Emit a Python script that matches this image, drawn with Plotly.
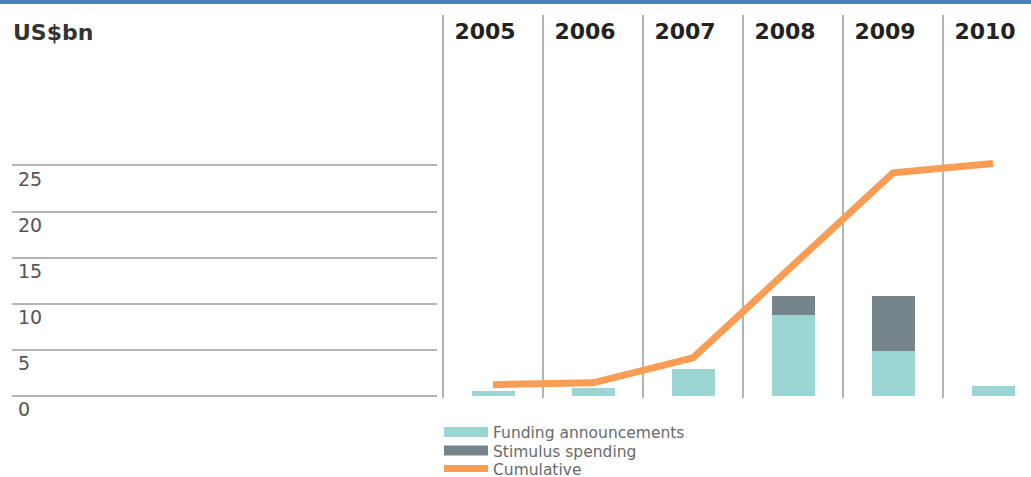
import plotly.graph_objects as go

# ---- data (US$bn) ----
years = ["2005", "2006", "2007", "2008", "2009", "2010"]
funding = [0.5, 0.8, 2.9, 8.8, 4.9, 1.1]
stimulus = [0.0, 0.0, 0.0, 2.0, 5.9, 0.0]
cumulative = [1.2, 1.4, 4.1, 14.2, 24.2, 25.2]
y_ticks = [0, 5, 10, 15, 20, 25]
y_tick_labels = ["0", "5", "10", "15", "20", "25"]

W, H = 1031, 477
TOP, BOTTOM = 15, 398           # plot area pixel rows
PLOT_H = BOTTOM - TOP
PX_PER_UNIT = 9.21
Y_MIN = -0.25
Y_MAX = Y_MIN + PLOT_H / PX_PER_UNIT

def py(p):                      # pixel row -> paper y
    return (BOTTOM - p) / PLOT_H

def px(p):                      # pixel column -> paper x
    return p / W

TEAL = "#9BD6D5"
SLATE = "#76858B"
ORANGE = "#F99D55"
GRID = "#B4B4B4"
FONT = "DejaVu Sans"

X_LEFT = 440                    # left edge of the bar panel (first boundary at 443)

fig = go.Figure()
fig.add_trace(go.Bar(x=years, y=funding, name="Funding announcements",
                     marker=dict(color=TEAL, line=dict(width=0)), width=0.43,
                     showlegend=False, legendgroup="f"))
fig.add_trace(go.Bar(x=years, y=stimulus, name="Stimulus spending",
                     marker=dict(color=SLATE, line=dict(width=0)), width=0.43,
                     showlegend=False, legendgroup="s"))
fig.add_trace(go.Scatter(x=years, y=cumulative, name="Cumulative", mode="lines",
                         line=dict(color=ORANGE, width=7), legend="legend3"))
# legend keys drawn as wide swatches (no data of their own)
fig.add_trace(go.Scatter(x=[None], y=[None], name="Funding announcements", mode="lines",
                         line=dict(color=TEAL, width=12), legend="legend",
                         legendgroup="f", hoverinfo="skip"))
fig.add_trace(go.Scatter(x=[None], y=[None], name="Stimulus spending", mode="lines",
                         line=dict(color=SLATE, width=12), legend="legend2",
                         legendgroup="s", hoverinfo="skip"))

leg_common = dict(font=dict(family=FONT, size=15.5, color="#6A6A6A"),
                  bgcolor="rgba(0,0,0,0)", xanchor="left", yanchor="middle",
                  x=px(439), itemwidth=44, tracegroupgap=0)

fig.update_layout(
    width=W, height=H,
    margin=dict(l=0, r=0, t=TOP, b=H - BOTTOM, pad=0, autoexpand=False),
    paper_bgcolor="white", plot_bgcolor="white",
    barmode="stack", bargap=0,
    showlegend=True,
    legend=dict(**leg_common, y=py(432.5)),
    legend2=dict(**leg_common, y=py(451)),
    legend3=dict(**leg_common, y=py(469)),
    xaxis=dict(domain=[px(X_LEFT), 1], type="category",
               range=[-0.5 - (443 - X_LEFT) / 100, -0.5 + (W - 443) / 100],
               side="top", showgrid=True, gridcolor=GRID, gridwidth=1.5,
               tickson="boundaries", ticks="", showline=False, zeroline=False,
               ticklabelposition="inside", ticklabelstandoff=6, ticklabelshift=-8,
               tickfont=dict(family=FONT, size=22, color="#222222", weight="bold"),
               fixedrange=True),
    yaxis=dict(range=[Y_MIN, Y_MAX], showgrid=False, zeroline=False, showticklabels=False,
               ticks="", showline=False, fixedrange=True),
    xaxis2=dict(domain=[px(12), px(437)], range=[0, 1], visible=False, anchor="y2"),
    yaxis2=dict(anchor="free", position=px(12), side="right",
                range=[Y_MIN, Y_MAX], tickvals=y_ticks, ticktext=y_tick_labels,
                showgrid=True, gridcolor=GRID, gridwidth=1.5, zeroline=False,
                showline=False, ticks="", ticklabelposition="outside",
                ticklabelstandoff=5, ticklabelshift=14,
                tickfont=dict(family=FONT, size=19, color="#555555"),
                fixedrange=True),
    annotations=[dict(text="US$bn", xref="paper", yref="paper", x=px(11), y=py(32),
                      xanchor="left", yanchor="middle", showarrow=False,
                      font=dict(family=FONT, size=22, color="#333333", weight="bold"))],
    shapes=[dict(type="rect", xref="paper", yref="paper", x0=0, x1=1,
                 y0=py(4), y1=py(0), fillcolor="#4F80BD", line=dict(width=0),
                 layer="above")],
)

# empty trace so the left grid panel is rendered
fig.add_trace(go.Scatter(x=[], y=[], xaxis="x2", yaxis="y2", showlegend=False,
                         hoverinfo="skip"))

fig.write_html("out.html",
               config={"displayModeBar": False},
               post_script="document.body.style.margin='0';"
                           "document.body.style.overflow='hidden';")
